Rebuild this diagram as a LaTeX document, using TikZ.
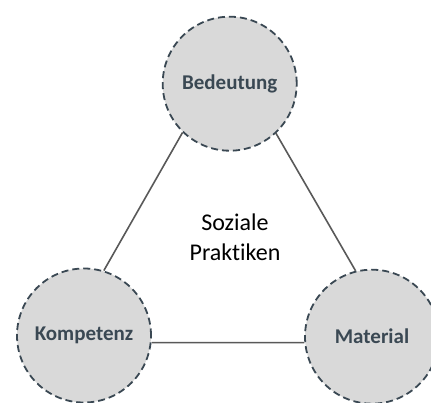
\documentclass[tikz,border=0pt]{standalone}
\usepackage{fontspec}
\setmainfont{Carlito}[Ligatures=NoCommon]
\usetikzlibrary{positioning}
\definecolor{slate}{HTML}{3A4853}
\definecolor{circfill}{HTML}{D9D9D9}
\definecolor{linkgray}{HTML}{595959}

\begin{document}
\begin{tikzpicture}[x=1pt, y=1pt,
  element/.style={circle, draw=slate, fill=circfill, line width=1.8pt,
                  dash pattern=on 7pt off 4pt, inner sep=0pt, minimum size=134pt,
                  text=slate, font=\fontsize{21}{25}\selectfont\bfseries},
  link/.style={draw=linkgray, line width=1.6pt}]
  \useasboundingbox (0,0) rectangle (431,403);
  \node[element] (bed) at (229.7,319.3) {Bedeutung};
  \node[element] (kom) at (84,67.5) {Kompetenz};
  \node[element] (mat) at (372,66.3) {Material};
  \node[align=center, font=\fontsize{24}{30}\selectfont] (prak) at (235,166) {Soziale\\Praktiken};
  \draw[link] (bed.226) -- (kom.73);
  \draw[link] (bed.313) -- (mat.104);
  \draw[link] (kom.-6) -- (mat.185);
\end{tikzpicture}
\end{document}
